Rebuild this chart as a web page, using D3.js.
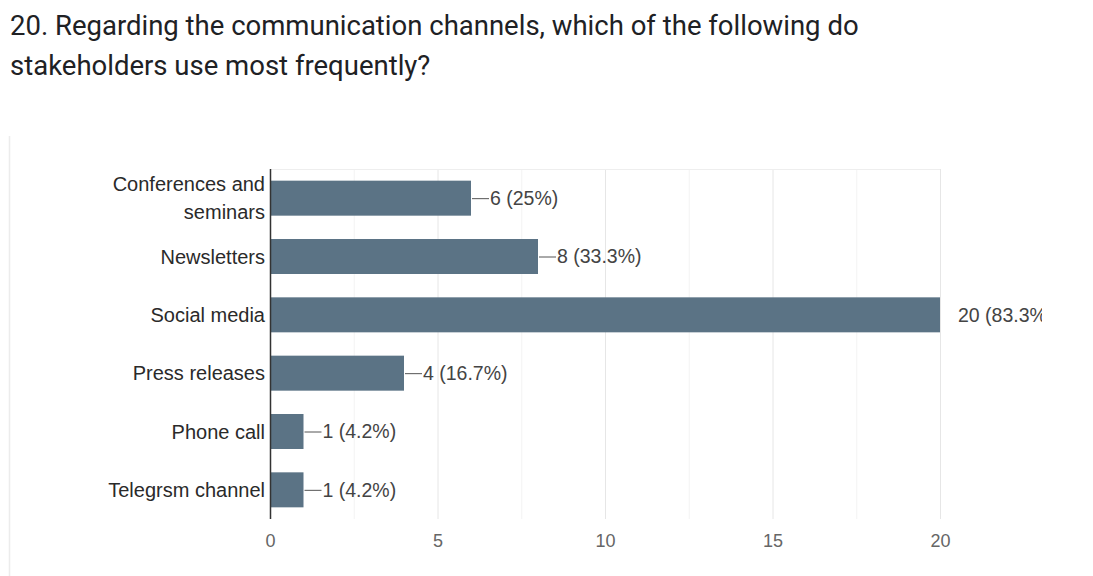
<!DOCTYPE html>
<html>
<head>
<meta charset="utf-8">
<script src="https://cdn.jsdelivr.net/npm/d3@7"></script>
<style>
  html, body { margin: 0; padding: 0; background: #fff; }
  svg { display: block; }
</style>
</head>
<body>
<svg id="chart" width="1093" height="576"></svg>
<script>
// Survey question 20: communication channels used by stakeholders
const categories = [
  ["Conferences and", "seminars"],
  ["Newsletters"],
  ["Social media"],
  ["Press releases"],
  ["Phone call"],
  ["Telegrsm channel"]
];
const counts = [6, 8, 20, 4, 1, 1];
const percents = ["25%", "33.3%", "83.3%", "16.7%", "4.2%", "4.2%"];
const xTicks = [0, 5, 10, 15, 20];
const titleLines = [
  "20. Regarding the communication channels, which of the following do",
  "stakeholders use most frequently?"
];

const svg = d3.select("#chart");
const W = 1093, H = 576;
const margin = { top: 169, right: 153, bottom: 57, left: 270 };
const innerW = W - margin.left - margin.right;
const innerH = H - margin.top - margin.bottom;
const labelFont = "Arial, 'Liberation Sans', sans-serif";

// card edge on the left
svg.append("line")
  .attr("x1", 9.5).attr("x2", 9.5).attr("y1", 136).attr("y2", H)
  .attr("stroke", "#ececec").attr("stroke-width", 1.5);

// title
svg.append("g").selectAll("text").data(titleLines).join("text")
  .attr("x", 10)
  .attr("y", (d, i) => 35 + i * 40)
  .attr("font-family", "Roboto, 'Open Sans', sans-serif")
  .attr("font-size", 27.5)
  .attr("fill", "#202124")
  .text(d => d);

const x = d3.scaleLinear().domain([0, 20]).range([0, innerW]);
const y = d3.scaleBand().domain(d3.range(categories.length)).range([0, innerH]).paddingInner(0.4).paddingOuter(0.2);

const g = svg.append("g").attr("transform", `translate(${margin.left},${margin.top})`);

// minor and major vertical gridlines
const minor = d3.range(0, 20.01, 2.5);
g.append("g").selectAll("line").data(minor).join("line")
  .attr("x1", d => x(d) + 0.5).attr("x2", d => x(d) + 0.5)
  .attr("y1", 0).attr("y2", innerH)
  .attr("stroke", d => d % 5 === 0 ? "#e6e6e6" : "#f3f3f3")
  .attr("stroke-width", 1);

// plot top border
g.append("line")
  .attr("x1", 0).attr("x2", x(20)).attr("y1", 0.5).attr("y2", 0.5)
  .attr("stroke", "#eeeeee");

// bars
g.append("g").selectAll("rect").data(counts).join("rect")
  .attr("x", 0)
  .attr("y", (d, i) => y(i))
  .attr("width", d => x(d))
  .attr("height", y.bandwidth())
  .attr("fill", "#5b7385");

// value labels with leader line, clipped at the right of the card
svg.append("defs").append("clipPath").attr("id", "clipRight")
  .append("rect").attr("x", -margin.left).attr("y", -margin.top).attr("width", 1042).attr("height", H);

const labels = g.append("g").attr("clip-path", "url(#clipRight)")
  .selectAll("g").data(counts).join("g")
  .attr("transform", (d, i) => `translate(${x(d)},${y(i) + y.bandwidth() / 2})`);

labels.filter(d => d < 20).append("line")
  .attr("x1", 1).attr("x2", 18).attr("y1", 0.5).attr("y2", 0.5)
  .attr("stroke", "#555").attr("stroke-width", 1);

labels.append("text")
  .attr("x", d => d < 20 ? 19 : 18)
  .attr("dy", "0.35em")
  .attr("font-family", labelFont)
  .attr("font-size", 19.5)
  .attr("fill", "#444")
  .text((d, i) => `${d} (${percents[i]})`);

// left axis line
g.append("line")
  .attr("x1", 0.5).attr("x2", 0.5).attr("y1", 0).attr("y2", innerH)
  .attr("stroke", "#333").attr("stroke-width", 1.5);

// category labels
const cat = g.append("g").selectAll("text").data(categories).join("text")
  .attr("x", -5)
  .attr("y", (d, i) => y(i) + y.bandwidth() / 2)
  .attr("text-anchor", "end")
  .attr("font-family", labelFont)
  .attr("font-size", 20)
  .attr("fill", "#2a2a2a");
cat.each(function(d) {
  const t = d3.select(this);
  const n = d.length;
  d.forEach((line, k) => {
    t.append("tspan")
      .attr("x", -5)
      .attr("dy", k === 0 ? `${0.35 - (n - 1) * 0.7}em` : "1.4em")
      .text(line);
  });
});

// bottom axis tick labels
const xAxis = d3.axisBottom(x).tickValues(xTicks).tickSize(0).tickPadding(0);
const ax = g.append("g").attr("transform", `translate(0,${innerH})`).call(xAxis);
ax.select(".domain").remove();
ax.selectAll("text")
  .attr("y", 22)
  .attr("dy", "0.35em")
  .attr("font-family", labelFont)
  .attr("font-size", 18)
  .attr("fill", "#666");
</script>
</body>
</html>
